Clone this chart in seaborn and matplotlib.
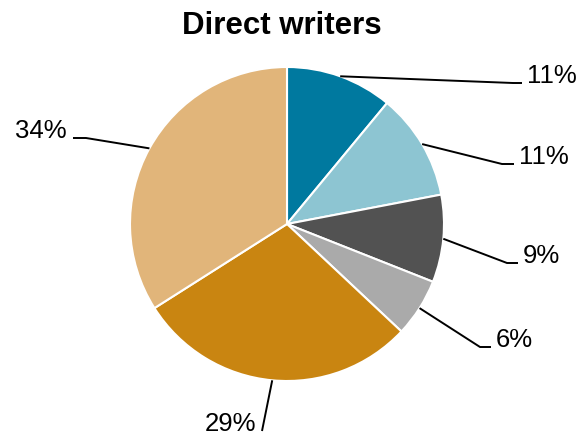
import numpy as np
import matplotlib
matplotlib.use("Agg")
import matplotlib.pyplot as plt
import seaborn as sns

# Share of direct writers by segment (percent), clockwise from 12 o'clock
segments = ["A", "B", "C", "D", "E", "F"]
shares = [11, 11, 9, 6, 29, 34]
labels = ["11%", "11%", "9%", "6%", "29%", "34%"]
colors = ["#00799F", "#8DC5D2", "#525252", "#AAAAAA", "#C98511", "#E1B57A"]

# Leader-line elbow and end points for each label (pixels, y measured from top)
elbows = [(513, 84), (502, 165), (507, 264), (480, 348), (262, 432), (86, 139)]
ends = [(522, 84), (514, 165), (518, 264), (491, 348), (262, 432), (73, 139)]
sides = ["left", "left", "left", "left", "right", "right"]

W, H = 580, 435
sns.set_theme(style="white")
plt.rcParams["font.family"] = ["Liberation Sans", "DejaVu Sans"]

fig = plt.figure(figsize=(W / 100, H / 100), dpi=100)
ax = fig.add_axes([0, 0, 1, 1])

cx, cy, r = 287, H - 225, 157
wedges, _ = ax.pie(shares, colors=colors, startangle=90, counterclock=False,
                   center=(cx, cy), radius=r,
                   wedgeprops=dict(edgecolor="white", linewidth=1.5))

ax.set_xlim(0, W)
ax.set_ylim(0, H)
ax.set_aspect("equal")
ax.axis("off")

for w, lab, elb, end, side in zip(wedges, labels, elbows, ends, sides):
    mid = np.deg2rad((w.theta1 + w.theta2) / 2)
    sx, sy = cx + r * np.cos(mid), cy + r * np.sin(mid)
    xs = [sx, elb[0], end[0]]
    ys = [sy, H - elb[1], H - end[1]]
    ax.plot(xs, ys, color="black", linewidth=1.4, solid_capstyle="butt")
    if side == "left":
        ax.text(end[0] + 5, H - end[1] + 1, lab, ha="left", va="baseline",
                fontsize=18.5, color="black")
    else:
        ax.text(end[0] - 6, H - end[1] + 1, lab, ha="right", va="baseline",
                fontsize=18.5, color="black")

ax.text(282, H - 33.5, "Direct writers", ha="center", va="baseline",
        fontsize=22.5, fontweight="bold", color="black")

fig.savefig("out.png", dpi=100)
